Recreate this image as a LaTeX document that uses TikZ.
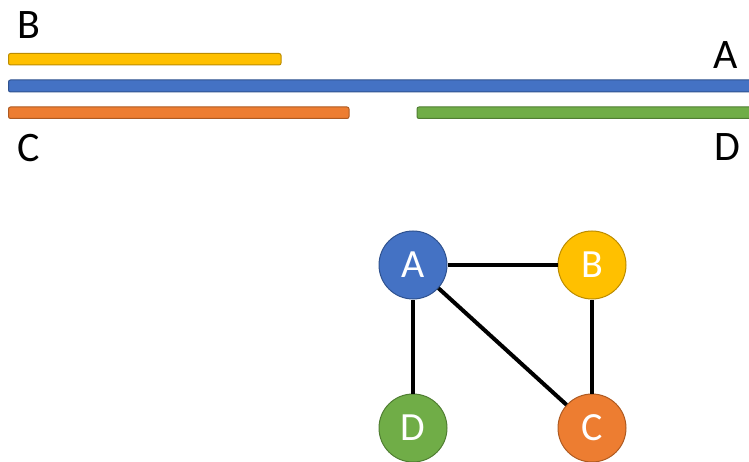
\documentclass[tikz,border=0pt]{standalone}
\usepackage{fontspec}
\setmainfont{Carlito}
\definecolor{cblue}{HTML}{4472C4}
\definecolor{cbluel}{HTML}{2F528F}
\definecolor{corange}{HTML}{ED7D31}
\definecolor{corangel}{HTML}{AE5A21}
\definecolor{cyellow}{HTML}{FFC000}
\definecolor{cyellowl}{HTML}{BC8C00}
\definecolor{cgreen}{HTML}{70AD47}
\definecolor{cgreenl}{HTML}{507E32}
\tikzset{
  bar/.style={rounded corners=2pt, line width=1pt},
  lbl/.style={inner sep=0pt, font=\fontsize{42}{42}\selectfont, text=black},
  vtx/.style={circle, minimum size=68pt, inner sep=0pt, line width=1pt, text=white, font=\fontsize{40}{40}\selectfont},
  edge/.style={line width=4pt, black}
}
\begin{document}
\begin{tikzpicture}[x=1pt,y=-1pt]
\useasboundingbox (0,0) rectangle (749,462);
% bars
\draw[bar, fill=cyellow, draw=cyellowl] (8.5,53.5) rectangle (281,65);
\draw[bar, fill=cblue, draw=cbluel] (8.5,80) rectangle (760,92);
\draw[bar, fill=corange, draw=corangel] (8.5,107) rectangle (349,118.5);
\draw[bar, fill=cgreen, draw=cgreenl] (417,107) rectangle (760,118.5);
% labels
\node[lbl] (lB) at (29,25) {B};
\node[lbl] (lA) at (726,55) {A};
\node[lbl] (lC) at (29,148) {C};
\node[lbl] (lD) at (727,147) {D};
% graph
\node[vtx, fill=cblue, draw=cbluel] (A) at (413,265) {A};
\node[vtx, fill=cyellow, draw=cyellowl] (B) at (592,265) {B};
\node[vtx, fill=cgreen, draw=cgreenl] (D) at (413,428) {D};
\node[vtx, fill=corange, draw=corangel] (C) at (592,428) {C};
\draw[edge] (A) -- (B);
\draw[edge] (A) -- (D);
\draw[edge] (B) -- (C);
\draw[edge] (A) -- (C);
\end{tikzpicture}
\end{document}
